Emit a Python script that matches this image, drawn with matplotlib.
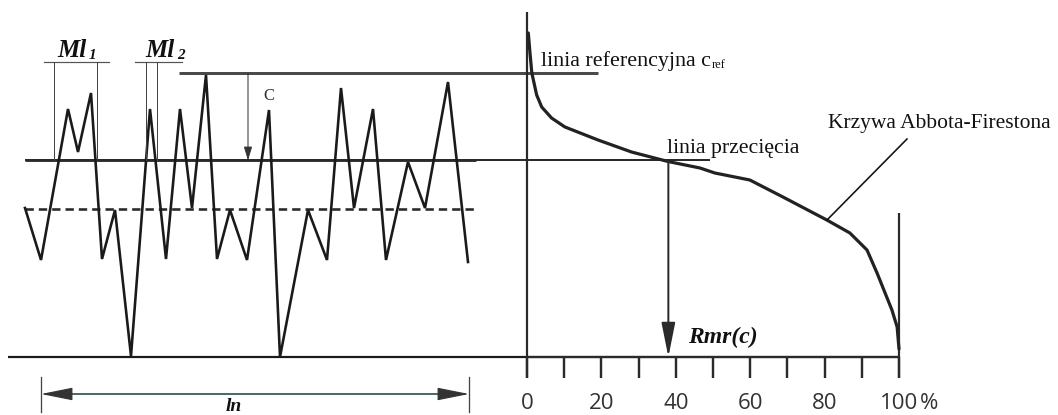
import matplotlib
matplotlib.use("Agg")
import matplotlib.pyplot as plt
import numpy as np

# ---------------- data (image pixel units: x to the right, y downward) ----------------
profile_x = [25, 41, 68, 78, 91, 102, 115, 131, 150, 166, 180, 192, 206, 217, 230, 247,
             269, 280, 308, 327, 341, 354, 373, 386, 408, 425, 448, 468]
profile_y = [208, 260, 109, 152, 93, 259, 210, 356, 109, 259, 109, 208, 75, 259, 210, 260,
             110, 357, 210, 260, 88, 208, 109, 260, 162, 208, 82, 262]

# Abbott-Firestone curve: material ratio in percent vs. height (pixel y)
abbott_pct = [0.35, 0.8, 1.3, 2.6, 3.95, 6.6, 10.2, 19.1, 28.1, 37.9, 46.5, 50.5,
              59.9, 68.8, 80.6, 86.8, 91.4, 94.1, 98.1, 99.5, 100.0]
abbott_y = [33, 53, 73, 95, 107, 118, 127, 140, 152, 161.5, 168, 173,
            180, 197, 220, 233, 250, 273, 310, 327, 349]

tick_pct = list(range(0, 101, 10))
label_pct = [0, 20, 40, 60, 80, 100]
label_txt = ['0', '20', '40', '60', '80', '100']
rmr_pct = 38.0

y_ref = 73.3      # reference line c_ref
y_cut = 160.5     # intersection line
y_mean = 209      # dash-dot line
y_base = 357      # bottom line

# axis of the material ratio graph
x0_pct, x100_pct = 527.0, 899.0


def pct2x(p):
    return x0_pct + (x100_pct - x0_pct) * np.asarray(p, dtype=float) / 100.0


plt.rcParams['lines.scale_dashes'] = False
serif = ['Liberation Serif', 'DejaVu Serif']
sans = ['Open Sans', 'DejaVu Sans']

fig = plt.figure(figsize=(10.58, 4.15), dpi=100)
ax = fig.add_axes([0, 0, 1, 1])
ax.set_xlim(0, 1058)
ax.set_ylim(415, 0)
ax.axis('off')
renderer = fig.canvas.get_renderer()

px = 0.72  # points per pixel at dpi 100
dark = '#1a1a1a'


def text_with_sub(x, y, main, sub, size, subsize, dy, gap=1.0, **kw):
    t = ax.text(x, y, main, fontsize=size, ha='left', va='baseline', **kw)
    bb = t.get_window_extent(renderer=renderer)
    x_end = ax.transData.inverted().transform((bb.x1, bb.y0))[0]
    ax.text(x_end + gap, y + dy, sub, fontsize=subsize, ha='left', va='baseline', **kw)


# ---------------- left: profile ----------------
ax.plot([8, x0_pct], [y_base, y_base], color=dark, lw=2.2 * px, solid_capstyle='butt')
ax.plot([25, 476], [y_cut, y_cut], color='#3a3a3a', lw=3.0 * px, solid_capstyle='butt')
ax.plot([25, 710], [y_cut, y_cut], color='#2a2a2a', lw=2.0 * px, solid_capstyle='butt')
ax.plot([25, 474], [y_mean, y_mean], color='#2a2a2a', lw=2.6 * px,
        linestyle=(0, (6.0, 3.6)), solid_capstyle='butt')
ax.plot([179, 598], [y_ref, y_ref], color='#4a4a4a', lw=3.0 * px, solid_capstyle='butt')

ax.plot(profile_x, profile_y, color=dark, lw=2.6 * px, solid_joinstyle='miter')

# Ml markers
ax.plot([44, 109], [62, 62], color='#555555', lw=1.2 * px)
ax.plot([54, 54], [62, y_cut], color='#444444', lw=1.0 * px)
ax.plot([97, 97], [62, y_cut], color='#444444', lw=1.0 * px)
ax.plot([135, 182], [62, 62], color='#555555', lw=1.2 * px)
ax.plot([146, 146], [62, y_cut], color='#444444', lw=1.0 * px)
ax.plot([157, 157], [62, y_cut], color='#444444', lw=1.0 * px)

ml_kw = dict(family=serif, fontweight='bold', fontstyle='italic', color='#111111')
text_with_sub(57, 57, 'Ml', '1', 18, 11, 2, gap=2.5, **ml_kw)
text_with_sub(145, 57, 'Ml', '2', 18, 11, 2, gap=2.5, **ml_kw)

# C arrow
ax.annotate('', xy=(248, y_cut), xytext=(248, y_ref),
            arrowprops=dict(arrowstyle='-|>,head_length=0.6,head_width=0.18',
                            mutation_scale=14, color='#333333', lw=1.0 * px,
                            shrinkA=0, shrinkB=0))
ax.text(263, 100, 'C', family=serif, fontsize=12, ha='left', va='baseline', color='#333333')

# ln dimension
ax.plot([41, 41], [377, 412], color='#444444', lw=1.3 * px)
ax.plot([469, 469], [377, 412], color='#444444', lw=1.3 * px)
ax.plot([60, 450], [394, 394], color='#1d4a4a', lw=1.6 * px)
for xa, xb in [(70, 41), (440, 469)]:
    ax.annotate('', xy=(xb, 394), xytext=(xa, 394),
                arrowprops=dict(arrowstyle='-|>,head_length=1.0,head_width=0.2',
                                mutation_scale=20, color='#333333', lw=1.2 * px,
                                shrinkA=0, shrinkB=0))
ax.text(234, 411, 'ln', family=serif, fontsize=14, fontweight='bold', fontstyle='italic',
        ha='center', va='baseline', color='#111111')

# ---------------- right: material ratio curve ----------------
ax.plot([x0_pct, x0_pct], [12, 378], color='#2a2a2a', lw=2.2 * px, solid_capstyle='butt')
ax.plot([x0_pct, x100_pct], [y_base, y_base], color='#2a2a2a', lw=2.4 * px,
        solid_capstyle='butt')
ax.plot([x100_pct, x100_pct], [213, 378], color='#2a2a2a', lw=2.2 * px,
        solid_capstyle='butt')
for t in tick_pct:
    ax.plot([pct2x(t), pct2x(t)], [y_base, 378], color='#2a2a2a', lw=2.4 * px,
            solid_capstyle='butt')
for t, s in zip(label_pct, label_txt):
    ax.text(pct2x(t), 409, s, family=sans, fontsize=16, ha='center', va='baseline',
            color='#333333')
ax.text(pct2x(100) + 21, 409, '%', family=sans, fontsize=16, ha='left', va='baseline',
        color='#333333')

ax.plot(pct2x(abbott_pct), abbott_y, color='#222222', lw=3.2 * px,
        solid_joinstyle='round', solid_capstyle='round')

# Rmr arrow
ax.annotate('', xy=(pct2x(rmr_pct), y_base), xytext=(pct2x(rmr_pct), y_cut),
            arrowprops=dict(arrowstyle='-|>,head_length=1.5,head_width=0.3',
                            mutation_scale=14, color='#2a2a2a', lw=2.0 * px,
                            shrinkA=0, shrinkB=0))
ax.text(688, 343, 'Rmr(c)', family=serif, fontsize=17, fontweight='bold',
        fontstyle='italic', ha='left', va='baseline', color='#111111')

# annotations
txt_kw = dict(family=serif, color='#111111')
text_with_sub(541, 66, 'linia referencyjna c', 'ref', 15.8, 9, 2, gap=0.5, **txt_kw)
ax.text(667, 153, 'linia przecięcia', fontsize=15.7, ha='left', va='baseline', **txt_kw)
ax.text(828, 128, 'Krzywa Abbota-Firestona', fontsize=15.5, ha='left', va='baseline',
        **txt_kw)
ax.plot([827, 907], [220, 139], color='#111111', lw=1.6 * px)

fig.savefig('out.png', dpi=100)
